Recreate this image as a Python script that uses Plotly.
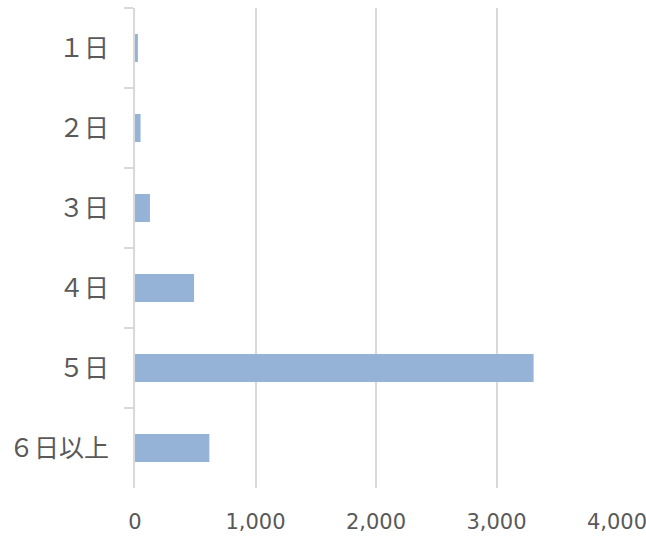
import plotly.graph_objects as go

categories = ["１日", "２日", "３日", "４日", "５日", "６日以上"]
values = [24, 46, 124, 490, 3308, 617]
x_ticks = [0, 1000, 2000, 3000, 4000]
x_tick_labels = ["0", "1,000", "2,000", "3,000", "4,000"]

FONT = "Noto Sans CJK JP"
GRAY = "#595959"
LINE = "#d9d9d9"

fig = go.Figure(go.Bar(
    x=values, y=categories, orientation="h",
    marker=dict(color="#95B3D7", line=dict(width=0)),
    width=0.35,
))

fig.update_layout(
    width=660, height=537,
    margin=dict(l=135, r=43, t=8, b=49, autoexpand=False),
    paper_bgcolor="white", plot_bgcolor="white",
    showlegend=False,
    font=dict(family=FONT, color=GRAY),
)
fig.update_xaxes(
    range=[0, 4000], tickvals=x_ticks, ticktext=x_tick_labels,
    showgrid=True, gridcolor=LINE, gridwidth=1.5,
    zeroline=False, showline=False, ticks="",
    tickfont=dict(size=21, color=GRAY, family="DejaVu Sans"),
    ticklabelstandoff=19, automargin=False, ticklabeloverflow="allow",
)
fig.update_yaxes(
    categoryorder="array", categoryarray=categories, autorange="reversed",
    showline=True, linecolor=LINE, linewidth=2,
    ticks="outside", tickson="boundaries", ticklen=9, tickcolor=LINE, tickwidth=2,
    showgrid=False, zeroline=False, automargin=False,
    tickfont=dict(size=25, color=GRAY, family=FONT),
    ticklabelstandoff=19,
)

fig.write_html(
    "out.html",
    config={"displayModeBar": False},
    post_script="document.body.style.margin='0';document.body.style.overflow='hidden';",
)
